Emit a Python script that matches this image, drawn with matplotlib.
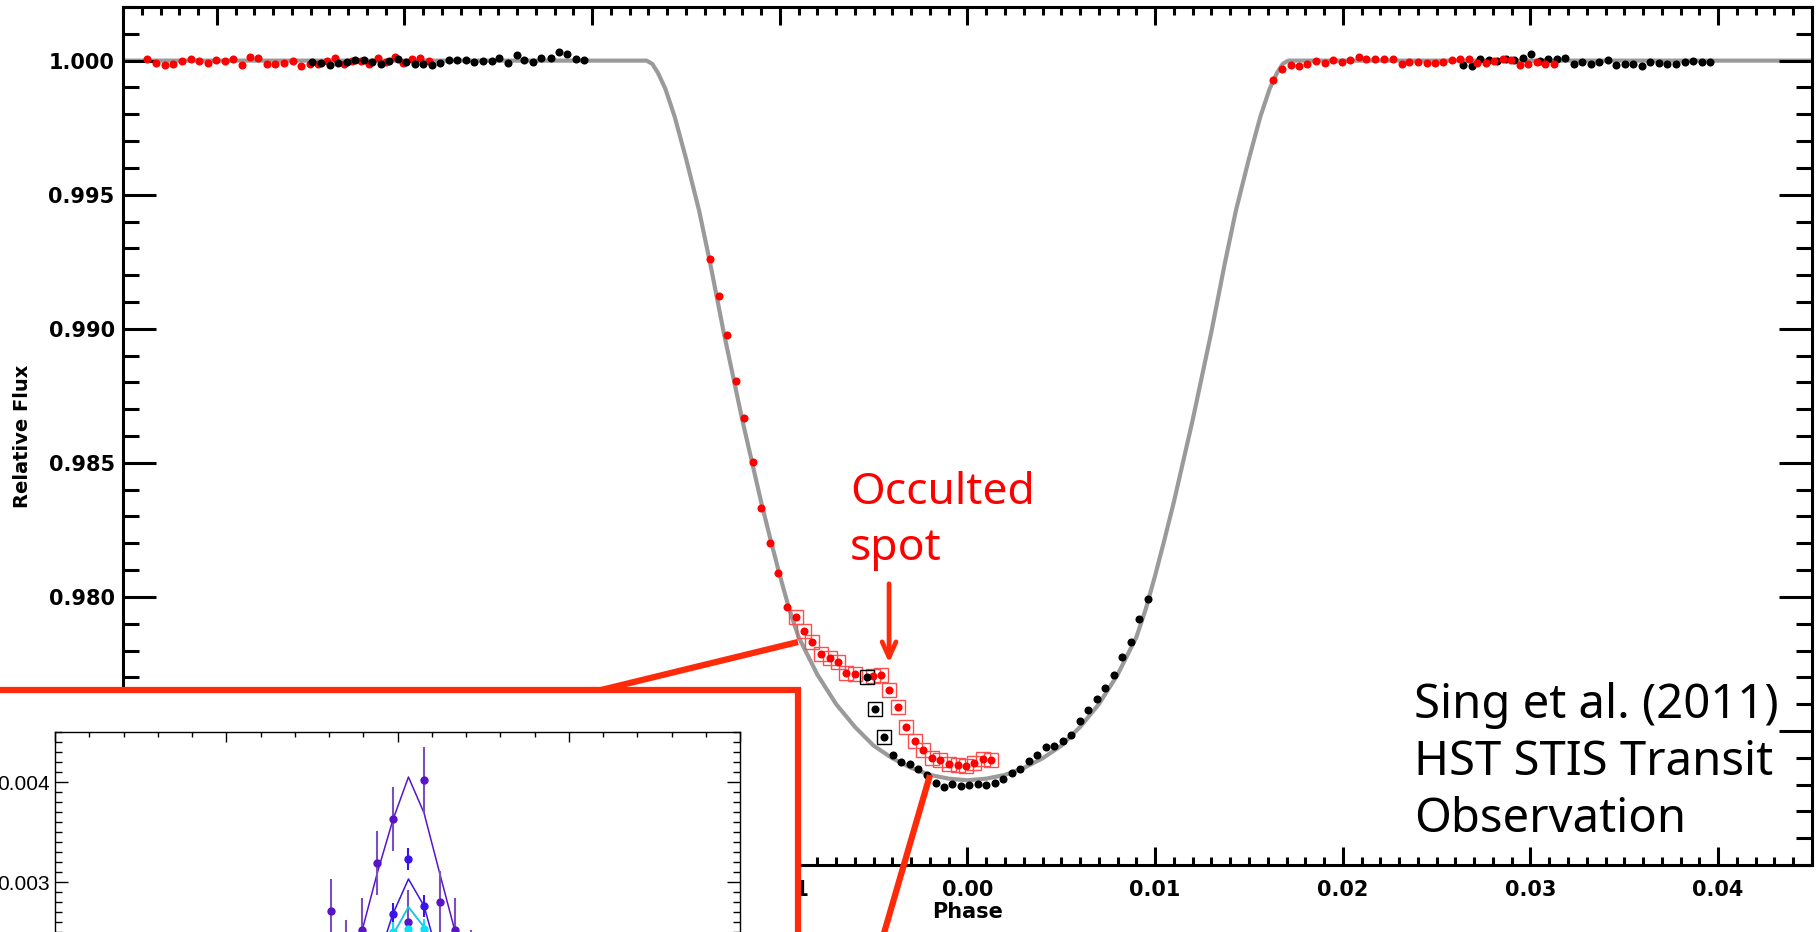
import matplotlib
matplotlib.use("Agg")
import matplotlib.pyplot as plt
from matplotlib.patches import Rectangle
from matplotlib.lines import Line2D
from matplotlib.ticker import MultipleLocator, FormatStrFormatter

# ── light curve: out-of-transit baseline, red visit then black visit ─────────
red_pre_phase = [-0.04372, -0.04324, -0.04276, -0.04234, -0.04186, -0.04138, -0.04095,
                 -0.04047, -0.04005, -0.03957, -0.03914, -0.03866, -0.03824, -0.03781,
                 -0.03733, -0.03691, -0.03643, -0.03595, -0.03552, -0.03505, -0.03462,
                 -0.03414, -0.03371, -0.03324, -0.03281, -0.03233, -0.03191, -0.03143,
                 -0.03100, -0.03052, -0.03010, -0.02962, -0.02919, -0.02871]
red_pre_flux = [1.00007, 0.99993, 0.99985, 0.99989, 1.00000, 1.00007, 1.00000, 0.99993,
                1.00004, 1.00000, 1.00007, 0.99985, 1.00015, 1.00011, 0.99989, 0.99989,
                0.99993, 1.00000, 0.99981, 0.99989, 0.99989, 1.00000, 1.00011, 0.99989,
                1.00000, 1.00000, 0.99989, 1.00011, 0.99996, 1.00015, 0.99993, 1.00007,
                1.00011, 1.00000]

blk_pre_phase = [-0.03494, -0.03446, -0.03398, -0.03356, -0.03308, -0.03265, -0.03217,
                 -0.03175, -0.03127, -0.03084, -0.03036, -0.02994, -0.02946, -0.02903,
                 -0.02855, -0.02813, -0.02765, -0.02722, -0.02674, -0.02627, -0.02584,
                 -0.02536, -0.02494, -0.02451, -0.02403, -0.02361, -0.02313, -0.02270,
                 -0.02222, -0.02175, -0.02132, -0.02084, -0.02042]
blk_pre_flux = [0.99996, 0.99993, 0.99985, 0.99993, 0.99996, 1.00004, 1.00004, 0.99996,
                0.99989, 1.00000, 1.00007, 0.99996, 0.99989, 0.99989, 0.99985, 0.99993,
                1.00004, 1.00004, 1.00004, 0.99996, 1.00000, 1.00000, 1.00011, 0.99993,
                1.00022, 1.00004, 0.99996, 1.00011, 1.00011, 1.00034, 1.00026, 1.00007,
                1.00004]

# red visit, ingress (unspotted)
red_in_phase = [-0.01370, -0.01323, -0.01280, -0.01232, -0.01190, -0.01142, -0.01099,
                -0.01051, -0.01009, -0.00961]
red_in_flux = [0.99261, 0.99123, 0.98978, 0.98806, 0.98668, 0.98504, 0.98332,
               0.98201, 0.98090, 0.97963]

# red visit, points flagged as spot crossing (boxed)
red_spot_phase = [-0.00916, -0.00871, -0.00826, -0.00781, -0.00734, -0.00690, -0.00645,
                  -0.00600, -0.00506, -0.00459, -0.00417, -0.00372, -0.00327, -0.00280,
                  -0.00235, -0.00191, -0.00146, -0.00099, -0.00052, -0.00010, 0.00037,
                  0.00082, 0.00127]
red_spot_flux = [0.97924, 0.97871, 0.97831, 0.97788, 0.97771, 0.97756, 0.97715, 0.97713,
                 0.97705, 0.97708, 0.97654, 0.97590, 0.97515, 0.97464, 0.97429, 0.97400,
                 0.97392, 0.97376, 0.97372, 0.97371, 0.97382, 0.97397, 0.97391]

# black visit, boxed points
blk_box_phase = [-0.00537, -0.00492, -0.00445]
blk_box_flux = [0.97700, 0.97581, 0.97476]

# black visit, bottom and egress
blk_in_phase = [-0.00399, -0.00353, -0.00309, -0.00264, -0.00217, -0.00170, -0.00126,
                -0.00082, -0.00036, 0.00009, 0.00054, 0.00098, 0.00145, 0.00190,
                0.00237, 0.00282, 0.00327, 0.00371, 0.00416, 0.00463, 0.00508, 0.00553,
                0.00598, 0.00644, 0.00689, 0.00734, 0.00781, 0.00825, 0.00871, 0.00915,
                0.00960]
blk_in_flux = [0.97412, 0.97384, 0.97376, 0.97357, 0.97335, 0.97307, 0.97290, 0.97302,
               0.97296, 0.97300, 0.97302, 0.97300, 0.97307, 0.97320, 0.97342, 0.97357,
               0.97387, 0.97409, 0.97441, 0.97445, 0.97464, 0.97484, 0.97537, 0.97578,
               0.97619, 0.97662, 0.97709, 0.97777, 0.97831, 0.97917, 0.97991]

red_post_phase = [0.01626, 0.01674, 0.01722, 0.01765, 0.01807, 0.01855, 0.01903, 0.01946,
                  0.01993, 0.02036, 0.02084, 0.02126, 0.02174, 0.02217, 0.02265, 0.02313,
                  0.02355, 0.02403, 0.02446, 0.02493, 0.02536, 0.02584, 0.02626, 0.02674,
                  0.02717, 0.02765, 0.02807, 0.02855, 0.02898, 0.02946, 0.02988, 0.03036,
                  0.03079, 0.03127]
red_post_flux = [0.99929, 0.99970, 0.99985, 0.99981, 0.99989, 1.00000, 0.99993, 1.00004,
                 0.99996, 1.00004, 1.00015, 1.00007, 1.00007, 1.00007, 1.00007, 0.99989,
                 0.99996, 0.99996, 0.99993, 0.99993, 0.99996, 1.00004, 1.00007, 1.00007,
                 0.99993, 0.99993, 1.00000, 1.00007, 1.00004, 0.99985, 0.99989, 0.99996,
                 0.99989, 0.99989]

blk_post_phase = [0.02642, 0.02690, 0.02733, 0.02781, 0.02823, 0.02871, 0.02914, 0.02962,
                  0.03004, 0.03052, 0.03095, 0.03143, 0.03185, 0.03233, 0.03276, 0.03324,
                  0.03366, 0.03414, 0.03457, 0.03505, 0.03547, 0.03595, 0.03638, 0.03686,
                  0.03728, 0.03776, 0.03824, 0.03867, 0.03915, 0.03957]
blk_post_flux = [0.99985, 0.99981, 1.00007, 1.00004, 1.00000, 1.00007, 1.00004, 1.00011,
                 1.00026, 1.00000, 1.00007, 1.00007, 1.00011, 0.99989, 0.99996, 0.99989,
                 0.99996, 1.00004, 0.99985, 0.99989, 0.99989, 0.99981, 0.99996, 0.99993,
                 0.99989, 0.99989, 0.99996, 1.00000, 0.99996, 0.99996]

# transit model
model_phase = [-0.0450, -0.0171, -0.0168, -0.0165, -0.0161, -0.0156, -0.0150, -0.0143,
               -0.0137, -0.0130, -0.0120, -0.0110, -0.0105, -0.0100, -0.0095, -0.0090,
               -0.0080, -0.0070, -0.0060, -0.0050, -0.0040, -0.0030, -0.0020, -0.0010,
               0.0000, 0.0010, 0.0020, 0.0030, 0.0040, 0.0050, 0.0060, 0.0070, 0.0080,
               0.0090, 0.0095, 0.0100, 0.0105, 0.0110, 0.0120, 0.0130, 0.0137, 0.0143,
               0.0150, 0.0156, 0.0161, 0.0165, 0.0168, 0.0171, 0.0450]
model_flux = [1.00000, 1.00000, 0.99988, 0.99955, 0.99895, 0.99790, 0.99635, 0.99440,
              0.99240, 0.98990, 0.98660, 0.98355, 0.98215, 0.98080, 0.97955, 0.97850,
              0.97710, 0.97600, 0.97515, 0.97445, 0.97398, 0.97362, 0.97336, 0.97322,
              0.97316, 0.97322, 0.97336, 0.97362, 0.97398, 0.97445, 0.97515, 0.97600,
              0.97710, 0.97850, 0.97955, 0.98080, 0.98215, 0.98355, 0.98660, 0.98990,
              0.99240, 0.99440, 0.99635, 0.99790, 0.99895, 0.99955, 0.99988, 1.00000,
              1.00000]

# ── inset: spot-crossing residuals in three bands ────────────────────────────
ins_t = [-0.00391, -0.00300, -0.00209, -0.00118, -0.00027, 0.00064, 0.00155, 0.00246,
         0.00337, 0.00428]
bandA_model = [0.00150, 0.00200, 0.00250, 0.00309, 0.00362, 0.00405, 0.00369, 0.00309,
               0.00250, 0.00200]
bandA_val = [0.00271, 0.00230, 0.00252, 0.00319, 0.00363, 0.00260, 0.00402, 0.00280,
             0.00252, 0.00220]
bandA_err = [0.00032, 0.00032, 0.00032, 0.00032, 0.00032, 0.00032, 0.00033, 0.00031,
             0.00032, 0.00032]
bandB_t = [-0.00118, -0.00027, 0.00064, 0.00155, 0.00246]
bandB_model = [0.00220, 0.00268, 0.00303, 0.00276, 0.00220]
bandB_val = [0.00200, 0.00268, 0.00323, 0.00276, 0.00200]
bandB_err = [0.00011, 0.00011, 0.00011, 0.00011, 0.00011]
bandC_model = [0.00200, 0.00247, 0.00275, 0.00255, 0.00210]
bandC_val = [0.00180, 0.00250, 0.00253, 0.00253, 0.00190]
bandC_err = [0.00010, 0.00010, 0.00010, 0.00010, 0.00010]

W, H, DPI = 1820, 932, 100
RED = "#ff0000"
FRAME = "#ff2a0a"


def fx(px):
    return px / W


def fy(py):
    return 1.0 - py / H


fig = plt.figure(figsize=(W / DPI, H / DPI), dpi=DPI)

# --- main light curve --------------------------------------------------------
ax = fig.add_axes([fx(123), fy(865), fx(1812) - fx(123), fy(7) - fy(865)])
ax.plot(model_phase, model_flux, color="#9a9a9a", lw=3.0, zorder=1)

dot = dict(ls="none", marker="o", ms=5.8, mec="none", zorder=3)
box = dict(ls="none", marker="s", ms=10.5, mfc="none", mew=1.0, zorder=2)

ax.plot(red_pre_phase, red_pre_flux, color=RED, **dot)
ax.plot(blk_pre_phase, blk_pre_flux, color="k", **dot)
ax.plot(red_in_phase, red_in_flux, color=RED, **dot)
ax.plot(red_spot_phase, red_spot_flux, mec="#ff4d4d", **box)
ax.plot(red_spot_phase, red_spot_flux, color=RED, **dot)
ax.plot(blk_box_phase, blk_box_flux, mec="k", **box)
ax.plot(blk_box_phase, blk_box_flux, color="k", **dot)
ax.plot(blk_in_phase, blk_in_flux, color="k", **dot)
ax.plot(blk_post_phase, blk_post_flux, color="k", **dot)
ax.plot(red_post_phase, red_post_flux, color=RED, **dot)

ax.set_xlim(-0.045, 0.045)
ax.set_ylim(0.970, 1.002)
ax.xaxis.set_major_locator(MultipleLocator(0.01))
ax.xaxis.set_minor_locator(MultipleLocator(0.001))
ax.yaxis.set_major_locator(MultipleLocator(0.005))
ax.yaxis.set_minor_locator(MultipleLocator(0.001))
ax.xaxis.set_major_formatter(FormatStrFormatter("%.2f"))
ax.yaxis.set_major_formatter(FormatStrFormatter("%.3f"))
ax.tick_params(which="both", direction="in", top=True, right=True, width=2.2,
               labelsize=15, colors="k")
ax.tick_params(axis="x", which="major", length=13, pad=11)
ax.tick_params(axis="x", which="minor", length=6)
ax.tick_params(axis="y", which="major", length=24, pad=6)
ax.tick_params(axis="y", which="minor", length=11.5)
for lab in ax.get_xticklabels() + ax.get_yticklabels():
    lab.set_fontweight("bold")
for s in ax.spines.values():
    s.set_linewidth(2.2)
ax.set_xlabel("Phase", fontsize=15, fontweight="bold", labelpad=1)
ax.set_ylabel("Relative Flux", fontsize=14, fontweight="bold", labelpad=12)

# spot annotation
fig.text(fx(850), fy(504), "Occulted", color=RED, fontsize=32,
         family="Noto Sans", va="baseline", ha="left")
fig.text(fx(850), fy(560), "spot", color=RED, fontsize=32,
         family="Noto Sans", va="baseline", ha="left")
ax.annotate("", xy=(-0.00418, 0.97754), xytext=(-0.00418, 0.98049),
            arrowprops=dict(arrowstyle="->,head_length=1.1,head_width=0.5",
                            color=FRAME, lw=3.4, shrinkA=0, shrinkB=0), zorder=5)

for i, line in enumerate(["Sing et al. (2011)", "HST STIS Transit", "Observation"]):
    fig.text(fx(1414), fy(718 + 57 * i), line, color="k", fontsize=34,
             family="Noto Sans", va="baseline", ha="left")

# --- inset frame and zoom lines ---------------------------------------------
frame = Rectangle((fx(-30), fy(990)), fx(798) - fx(-30), fy(690) - fy(990),
                  transform=fig.transFigure, facecolor="white", edgecolor=FRAME,
                  lw=4.5, zorder=2)
fig.add_artist(frame)
for (x0, y0), (x1, y1) in [((601, 690), (798, 642)), ((930, 775), (882, 940))]:
    fig.add_artist(Line2D([fx(x0), fx(x1)], [fy(y0), fy(y1)], color=FRAME, lw=4.5,
                          solid_capstyle="butt", transform=fig.transFigure, zorder=4))

# inset runs off the bottom of the page: only its upper part is drawn
ins = fig.add_axes([fx(55), fy(932), fx(740) - fx(55), fy(732) - fy(932)])
ins.set_zorder(3)
ins.set_facecolor("white")
ins.plot(ins_t, bandA_model, color="#5a14c8", lw=1.1)
ins.errorbar(ins_t, bandA_val, yerr=bandA_err, fmt="o", ms=5, color="#5a14c8",
             ecolor="#7a50c0", elinewidth=1.5, capsize=0)
ins.plot(bandB_t, bandB_model, color="#3a14e6", lw=1.1)
ins.errorbar(bandB_t, bandB_val, yerr=bandB_err, fmt="o", ms=5, color="#3a14e6",
             elinewidth=1.5, capsize=0)
ins.plot(bandB_t, bandC_model, color="#22c4e0", lw=1.4)
ins.errorbar(bandB_t, bandC_val, yerr=bandC_err, fmt="o", ms=5, color="#12e0f0",
             elinewidth=1.5, capsize=0)
ins.set_xlim(-0.02, 0.02)
ins.set_ylim(0.0025, 0.0045)
ins.xaxis.set_major_locator(MultipleLocator(0.01))
ins.xaxis.set_minor_locator(MultipleLocator(0.002))
ins.yaxis.set_major_locator(MultipleLocator(0.001))
ins.yaxis.set_minor_locator(MultipleLocator(0.0001))
ins.yaxis.set_major_formatter(FormatStrFormatter("%.3f"))
ins.tick_params(which="both", direction="in", top=True, right=True, bottom=False,
                labelbottom=False, width=1.0)
ins.tick_params(axis="x", which="major", length=7.5)
ins.tick_params(axis="x", which="minor", length=3.8)
ins.tick_params(axis="y", which="major", length=9.5, pad=3.5)
ins.tick_params(axis="y", which="minor", length=5)
ins.tick_params(axis="y", labelsize=15, labelfontfamily="Liberation Sans")
for s in ins.spines.values():
    s.set_linewidth(1.0)
ins.spines["bottom"].set_visible(False)

fig.savefig("out.png", dpi=DPI)
